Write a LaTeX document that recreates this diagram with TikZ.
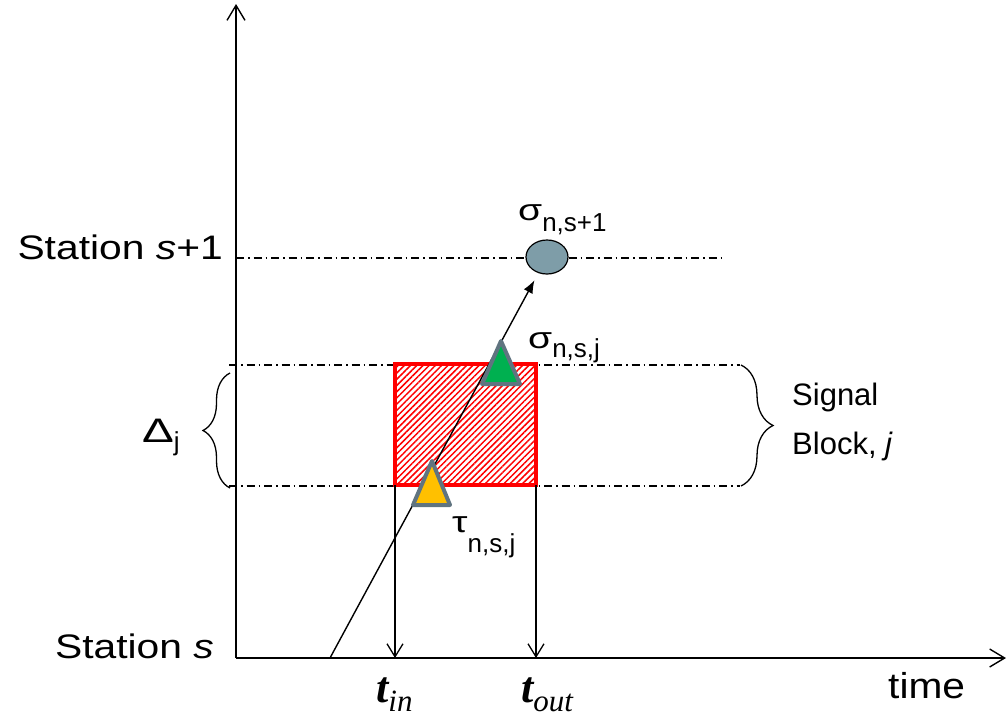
\documentclass[tikz,border=0pt]{standalone}
\usepackage{fontspec}
\usepackage{graphicx}
\setmainfont{Liberation Sans}
\newfontfamily\timesf{Liberation Serif}
\usetikzlibrary{arrows.meta,patterns.meta,shapes.geometric,decorations.pathreplacing}
\definecolor{ellgray}{RGB}{126,157,168}
\definecolor{triedge}{RGB}{96,116,128}
\definecolor{tgreen}{RGB}{0,176,80}
\definecolor{torange}{RGB}{255,192,0}
\newcommand{\sz}[3]{\scalebox{#2}[1]{\fontsize{#1}{#1}\selectfont #3}}
\begin{document}
\begin{tikzpicture}[x=1pt,y=-1pt,
  axisln/.style={line width=1.8pt,-{Straight Barb[length=15pt,width=18pt,line width=1.4pt]}},
  varr/.style={line width=1.3pt,-{Straight Barb[length=13pt,width=16pt,line width=1.3pt]}},
  darr/.style={line width=1.4pt,-{Latex[length=13pt,width=10pt]},shorten >=8pt},
  dashdot/.style={line width=1.2pt,dash pattern=on 8pt off 4pt on 1.5pt off 4pt},
  brc/.style={line width=1.3pt,decorate},
  tri/.style={line width=4pt,draw=triedge,line join=round},
  lbl/.style={inner sep=0pt,anchor=base west}
]
\useasboundingbox (0,0) rectangle (1007,720);

% axes
\coordinate (O) at (236,658);
\coordinate (Ytop) at (236,4);
\coordinate (Xend) at (1006,658);
\draw[axisln] (O) -- (Ytop);
\draw[axisln] (O) -- (Xend);

% dash-dot reference lines
\coordinate (s1a) at (236,258);
\coordinate (s1b) at (722,258);
\coordinate (bta) at (229,365);
\coordinate (btb) at (740,365);
\coordinate (bba) at (229,486);
\coordinate (bbb) at (740,486);
\draw[dashdot] (s1a) -- (s1b);
\draw[dashdot] (bta) -- (btb);
\draw[dashdot] (bba) -- (bbb);

% hatched signal block
\node[draw=red,line width=4pt,inner sep=0pt,outer sep=0pt,
      minimum width=141pt,minimum height=121pt,
      pattern={Lines[angle=45,distance=4.4pt,line width=1.5pt]},pattern color=red]
      (blk) at (465.5,424.5) {};

% t_in / t_out arrows
\draw[varr] (blk.south west) -- (blk.south west |- O);
\draw[varr] (blk.south east) -- (blk.south east |- O);

% station s+1 event
\node[ellipse,draw=black,line width=1.2pt,fill=ellgray,inner sep=0pt,
      minimum width=42pt,minimum height=34pt] (sig) at (547,257) {};

% train trajectory
\coordinate (start) at (330,658);
\draw[darr] (start) -- (sig);

% triangles
\filldraw[tri,fill=tgreen] (501,341) -- (482,384) -- (520,384) -- cycle;
\filldraw[tri,fill=torange] (432,461) -- (413,505) -- (450,505) -- cycle;

% braces
\draw[brc,decoration={brace,amplitude=27pt,aspect=0.5}] (230,488) -- (230,373);
\draw[brc,decoration={brace,amplitude=32pt,aspect=0.5}] (741,365) -- (741,486);

% labels
\node[lbl,anchor=base east] (st1) at (223,259) {\sz{34}{1.2}{Station \textit{s}+1}};
\node[lbl,anchor=base east] (st0) at (214,658) {\sz{34}{1.2}{Station \textit{s}}};
\node[lbl] (time) at (888,698) {\sz{36}{1.13}{time}};
\node[lbl] (sb1) at (792,405) {\sz{31}{1.0}{Signal}};
\node[lbl] (sb2) at (792,454) {\sz{31}{1.0}{Block, \textit{j}}};
\node[lbl] (dj) at (142,442) {\sz{34}{1.4}{Δ}\raisebox{-8pt}{\sz{26}{1.0}{j}}};
\node[lbl] (ls1) at (518,220) {\sz{30}{1.3}{σ}\raisebox{-11pt}{\sz{26}{1.0}{n,s+1}}};
\node[lbl] (lsj) at (528,348) {\sz{30}{1.3}{σ}\raisebox{-9pt}{\sz{26}{1.0}{n,s,j}}};
\node[lbl] (ltj) at (452,532) {\sz{30}{1.3}{τ}\raisebox{-20pt}{\sz{26}{1.0}{n,s,j}}};
\node[lbl] (tin) at (376,702) {\sz{44}{1.0}{\timesf\bfseries\itshape t}\raisebox{-9pt}{\sz{31}{1.0}{\timesf\itshape in}}};
\node[lbl] (tout) at (521,702) {\sz{44}{1.0}{\timesf\bfseries\itshape t}\raisebox{-9pt}{\sz{31}{1.0}{\timesf\itshape out}}};
\end{tikzpicture}
\end{document}
